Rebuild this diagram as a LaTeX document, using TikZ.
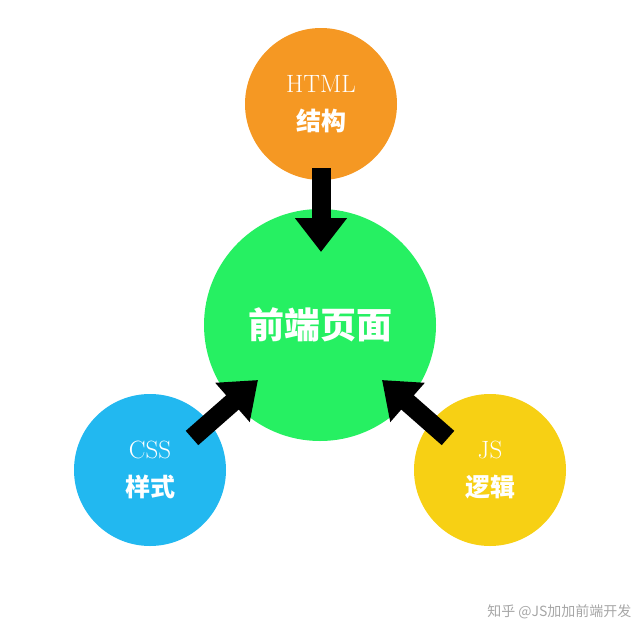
\documentclass[tikz,border=0pt]{standalone}
\usepackage{fontspec}
\newfontfamily\cjk{Noto Sans CJK SC}
\usetikzlibrary{arrows.meta, positioning}
\definecolor{htmlorange}{RGB}{245,152,35}
\definecolor{pagegreen}{RGB}{38,240,98}
\definecolor{cssblue}{RGB}{34,184,240}
\definecolor{jsyellow}{RGB}{247,208,20}
\begin{document}
\begin{tikzpicture}[x=1pt,y=-1pt]
		% styles for the circles and arrows
		\tikzset{part/.style={circle, minimum size=152pt, inner sep=0pt, text=white, font=\fontsize{25}{36}\selectfont, align=center},
			bigarrow/.style={line width=19pt, -{Triangle[length=34pt,width=50pt]}}}
		\useasboundingbox (0,0) rectangle (640,640);
		
		% the page in the middle
		\node[part, fill=pagegreen, minimum size=232pt, font=\cjk\bfseries\fontsize{36}{40}\selectfont] (page) at (320,325) {前端页面};
		
		% the three parts
		\node[part, fill=htmlorange] (html) at (321,104) {HTML\\[2pt]{\cjk\bfseries 结构}};
		\node[part, fill=cssblue] (css) at (150,470) {CSS\\[2pt]{\cjk\bfseries 样式}};
		\node[part, fill=jsyellow] (js) at (490,470) {JS\\[2pt]{\cjk\bfseries 逻辑}};
		
		% arrow ends
		\coordinate (htmlout) at (321,168);
		\coordinate (htmlin) at (321,252);
		\coordinate (cssout) at (192,438);
		\coordinate (cssin) at (258,380);
		\coordinate (jsout) at (448,438);
		\coordinate (jsin) at (382,380);
		
		% arrows into the page
		\draw[bigarrow] (htmlout) -- (htmlin);
		\draw[bigarrow] (cssout) -- (cssin);
		\draw[bigarrow] (jsout) -- (jsin);
		
		\node[text=gray!70, font=\cjk\fontsize{14}{16}\selectfont, anchor=east] (mark) at (635,612) {知乎 @JS加加前端开发};
	\end{tikzpicture}
\end{document}
